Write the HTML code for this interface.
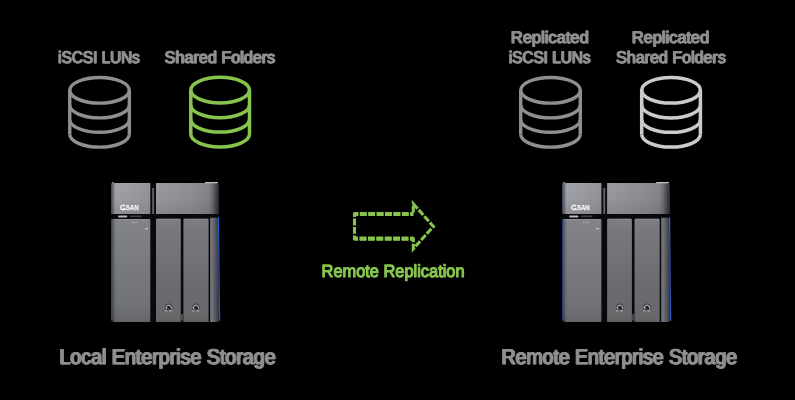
<!DOCTYPE html>
<html>
<head>
<meta charset="utf-8">
<title>Remote Replication</title>
<style>
html,body{margin:0;padding:0;background:#000;}
body{width:795px;height:400px;overflow:hidden;font-family:"Liberation Sans",sans-serif;}
svg{display:block;will-change:transform;}
text{font-family:"Liberation Sans",sans-serif;}
</style>
</head>
<body>
<svg width="795" height="400" viewBox="0 0 795 400">
<defs>
  <linearGradient id="gTopL" x1="0" y1="0" x2="1" y2="0">
    <stop offset="0" stop-color="#5a5d66"/>
    <stop offset="0.05" stop-color="#707277"/>
    <stop offset="0.1" stop-color="#a0a2a7"/>
    <stop offset="0.5" stop-color="#9c9ea3"/>
    <stop offset="1" stop-color="#94959a"/>
  </linearGradient>
  <linearGradient id="gTopR" x1="0" y1="0" x2="1" y2="0">
    <stop offset="0" stop-color="#9a9ba0"/>
    <stop offset="0.62" stop-color="#8c8e93"/>
    <stop offset="0.83" stop-color="#84868b"/>
    <stop offset="0.89" stop-color="#707277"/>
    <stop offset="0.955" stop-color="#44464b"/>
    <stop offset="1" stop-color="#2e2f33"/>
  </linearGradient>
  <linearGradient id="gTopShade" x1="0" y1="0" x2="0" y2="1">
    <stop offset="0" stop-color="#000" stop-opacity="0"/>
    <stop offset="0.5" stop-color="#000" stop-opacity="0.03"/>
    <stop offset="1" stop-color="#000" stop-opacity="0.11"/>
  </linearGradient>
  <linearGradient id="gLowL" x1="0" y1="0" x2="0" y2="1">
    <stop offset="0" stop-color="#828489"/>
    <stop offset="0.4" stop-color="#797b80"/>
    <stop offset="0.8" stop-color="#717377"/>
    <stop offset="0.94" stop-color="#6b6c6f"/>
    <stop offset="1" stop-color="#626365"/>
  </linearGradient>
  <linearGradient id="gLow" x1="0" y1="0" x2="0" y2="1">
    <stop offset="0" stop-color="#7c7e84"/>
    <stop offset="0.13" stop-color="#76787e"/>
    <stop offset="0.4" stop-color="#707277"/>
    <stop offset="0.65" stop-color="#6a6b6e"/>
    <stop offset="0.95" stop-color="#67686a"/>
    <stop offset="1" stop-color="#5e5f61"/>
  </linearGradient>
  <linearGradient id="gLeftEdge" x1="0" y1="0" x2="1" y2="0">
    <stop offset="0" stop-color="#000" stop-opacity="0.3"/>
    <stop offset="1" stop-color="#000" stop-opacity="0"/>
  </linearGradient>
  <linearGradient id="gSide" x1="0" y1="0" x2="1" y2="0">
    <stop offset="0" stop-color="#5e6065"/>
    <stop offset="0.18" stop-color="#73757a"/>
    <stop offset="0.5" stop-color="#5e6065"/>
    <stop offset="0.8" stop-color="#46484c"/>
    <stop offset="1" stop-color="#3a3b3f"/>
  </linearGradient>
  <linearGradient id="gBlue" x1="0" y1="0" x2="0" y2="1">
    <stop offset="0" stop-color="#3560d8"/>
    <stop offset="0.25" stop-color="#2a48a6"/>
    <stop offset="0.6" stop-color="#2a48a6"/>
    <stop offset="1" stop-color="#2f55c0"/>
  </linearGradient>

  <g id="cyl" fill="none">
    <ellipse cx="0" cy="14.3" rx="29.8" ry="12.8"/>
    <path d="M-29.8 14.3 V58.3 M29.8 14.3 V58.3"/>
    <path d="M-29.8 29.1 A29.8 12.8 0 0 0 29.8 29.1"/>
    <path d="M-29.8 43.5 A29.8 12.8 0 0 0 29.8 43.5"/>
    <path d="M-29.8 58.3 A29.8 12.8 0 0 0 29.8 58.3"/>
  </g>
  <g id="cylb" fill="none">
    <ellipse cx="0" cy="14.3" rx="29.35" ry="12.8"/>
    <path d="M-29.35 14.3 V58.3 M29.35 14.3 V58.3"/>
    <path d="M-29.35 29.1 A29.35 12.8 0 0 0 29.35 29.1"/>
    <path d="M-29.35 43.5 A29.35 12.8 0 0 0 29.35 43.5"/>
    <path d="M-29.35 58.3 A29.35 12.8 0 0 0 29.35 58.3"/>
  </g>

  <g id="nas">
    <!-- body dark base -->
    <path d="M0.5 1 H107.5 L108.2 139.6 H0.5 Z" fill="#09090c"/>
    <!-- blue fringe -->
    <rect x="0.2" y="36.4" width="1.2" height="101.6" fill="#3358b8"/>
    <rect x="0.2" y="0.6" width="0.9" height="30.6" fill="#3a4f86"/>
    <path d="M106.7 34.6 H108.1 L109.2 138.2 H107.6 Z" fill="url(#gBlue)"/>
    <!-- top panels -->
    <path d="M0.4 2.2 Q0.4 0.4 2.2 0.4 H39.3 V31.4 H0.4 Z" fill="url(#gTopL)"/>
    <path d="M0.4 2.2 Q0.4 0.4 2.2 0.4 H39.3 V31.4 H0.4 Z" fill="url(#gTopShade)"/>
    <path d="M45 0.4 H104.8 Q107.8 0.4 107.8 3.4 V31.4 H45 Z" fill="url(#gTopR)"/>
    <path d="M45 0.4 H104.8 Q107.8 0.4 107.8 3.4 V31.4 H45 Z" fill="url(#gTopShade)"/>
    <rect x="94" y="-0.7" width="13" height="1.3" rx="0.5" fill="#c4c4c6"/>
    <circle cx="2" cy="0.2" r="0.8" fill="#c0c0c0"/>
    <rect x="41.2" y="5.4" width="1.9" height="26" fill="#5f6272"/>
    <!-- lower panels -->
    <path d="M1.2 37.4 Q1.2 36.4 2.2 36.4 H38.3 Q39.3 36.4 39.3 37.4 V139.3 H3.2 Q1.2 139.3 1.2 137.3 Z" fill="url(#gLowL)"/>
    <rect x="1.2" y="36.4" width="4" height="102.9" fill="url(#gLeftEdge)"/>
    <path d="M45 37.2 Q45 36.2 46 36.2 H68.8 Q69.8 36.2 69.8 37.2 V139.3 H45 Z" fill="url(#gLow)"/>
    <path d="M72.4 37.2 Q72.4 36.2 73.4 36.2 H96.6 Q97.6 36.2 97.6 37.2 V139.3 H72.4 Z" fill="url(#gLow)"/>
    <path d="M99 35.2 H105 Q106.8 35.2 106.8 37 L107.7 137.3 Q107.7 139.3 105.7 139.3 H99 Z" fill="url(#gSide)"/>
    
    <!-- top-edge highlights -->
    <rect x="2" y="36.4" width="36.5" height="0.7" fill="#a0a2a6" opacity="0.7"/>
    <rect x="46" y="36.2" width="23" height="0.7" fill="#a0a2a6" opacity="0.7"/>
    <rect x="73.4" y="36.2" width="23.4" height="0.7" fill="#a0a2a6" opacity="0.7"/>
    <!-- gap details -->
    <rect x="7.2" y="33" width="9" height="1.8" rx="0.6" fill="#b8babd"/>
    <rect x="19" y="33" width="11.5" height="1.6" rx="0.6" fill="#3e3f43"/>
    <rect x="20.5" y="39.2" width="2.8" height="1" fill="#c8cacc" opacity="0.55"/><rect x="24" y="39.2" width="3" height="1" fill="#c8cacc" opacity="0.55"/>
    <rect x="34" y="45.6" width="3" height="1" rx="0.4" fill="#e0e2e4" opacity="0.9"/>
    <rect x="70" y="131.5" width="2.2" height="6.5" fill="#4a4c50"/>
    <!-- logo -->
    <path d="M13.87 23.7 A2.4 2.1 0 1 0 13.28 26.62 M12.3 25.3 L14.7 27.2" fill="none" stroke="#f4f4f6" stroke-width="1.3"/>
    <text x="14.8" y="27.45" font-size="6.8" font-weight="bold" fill="#f4f4f6" stroke="#f4f4f6" stroke-width="0.25" textLength="12.7" lengthAdjust="spacingAndGlyphs">SAN</text>
    <!-- locks -->
    <g id="lock">
      <circle cx="57.6" cy="124.8" r="3.8" fill="#3f4044" opacity="0.9"/>
      <path d="M55.3 126.3 A2.6 2.6 0 1 1 59.6 126.9" fill="none" stroke="#d0d2d5" stroke-width="0.9"/>
      <path d="M57.3 124.2 L59.3 126.2" stroke="#151517" stroke-width="1.3" stroke-linecap="round"/>
      <rect x="54" y="127.8" width="2.5" height="0.9" fill="#e6e8ea" opacity="0.85"/>
      <rect x="57.6" y="127.8" width="3.2" height="0.9" fill="#e6e8ea" opacity="0.85"/>
    </g>
    <use href="#lock" x="27.3"/>
  </g>
</defs>

<rect width="795" height="400" fill="#000"/>

<!-- cylinders -->
<use href="#cyl" x="99.55" y="76" stroke="#8f8f8f" stroke-width="3.4"/>
<use href="#cylb" x="220.13" y="75.8" stroke="#87c44e" stroke-width="3.5"/>
<use href="#cyl" x="550.5" y="76" stroke="#8f8f8f" stroke-width="3.4"/>
<use href="#cylb" x="671.05" y="76" stroke="#cbcbcb" stroke-width="3.5"/>

<!-- labels -->
<g id="lab16" text-rendering="geometricPrecision" fill="#8f8f8f" stroke="#8f8f8f" stroke-width="0.85" stroke-linejoin="round" font-size="16.8">
  <text x="58.6" y="62.7" textLength="81.6" lengthAdjust="spacingAndGlyphs">iSCSI LUNs</text>
  <text x="165.1" y="62.7" textLength="110.6" lengthAdjust="spacingAndGlyphs">Shared Folders</text>
  <text x="511.3" y="43.15" textLength="77.9" lengthAdjust="spacingAndGlyphs">Replicated</text>
  <text x="509.2" y="62.95" textLength="81.8" lengthAdjust="spacingAndGlyphs">iSCSI LUNs</text>
  <text x="632.2" y="43.15" textLength="77.4" lengthAdjust="spacingAndGlyphs">Replicated</text>
  <text x="616.6" y="62.95" textLength="109.6" lengthAdjust="spacingAndGlyphs">Shared Folders</text>
</g>
<use href="#lab16" x="-0.8"/>
<g id="lab20" text-rendering="geometricPrecision" fill="#8f8f8f" stroke="#8f8f8f" stroke-width="0.9" stroke-linejoin="round" font-size="21.3">
  <text x="60.0" y="364.2" textLength="216.2" lengthAdjust="spacingAndGlyphs">Local Enterprise Storage</text>
  <text x="502.2" y="364.35" textLength="235.4" lengthAdjust="spacingAndGlyphs">Remote Enterprise Storage</text>
</g>
<use href="#lab20" x="-1.1"/>
<text text-rendering="geometricPrecision" x="321.6" y="277.4" font-size="17.6" fill="#87c44e" stroke="#87c44e" stroke-width="1.2" stroke-linejoin="round" textLength="143" lengthAdjust="spacingAndGlyphs">Remote Replication</text>

<!-- arrow -->
<g fill="none" stroke="#87c44e" stroke-dasharray="6.8 1.6" stroke-linejoin="miter" stroke-miterlimit="6">
  <path d="M413.3 214 H354.5 V238.7 H413.3 V248.8 L433.4 226.4 L413.3 203.8 Z" stroke-width="3.1" stroke-dashoffset="3.8"/>
  <path d="M413.3 214 H354.5" stroke-width="4.2" stroke-dashoffset="3.8"/>
  <path d="M354.5 238.7 H413.3" stroke-width="4.2" stroke-dashoffset="3.3"/>
</g>

<!-- devices -->
<use href="#nas" x="111" y="182.6"/>
<use href="#nas" x="562.1" y="182.6"/>
</svg>
</body>
</html>
